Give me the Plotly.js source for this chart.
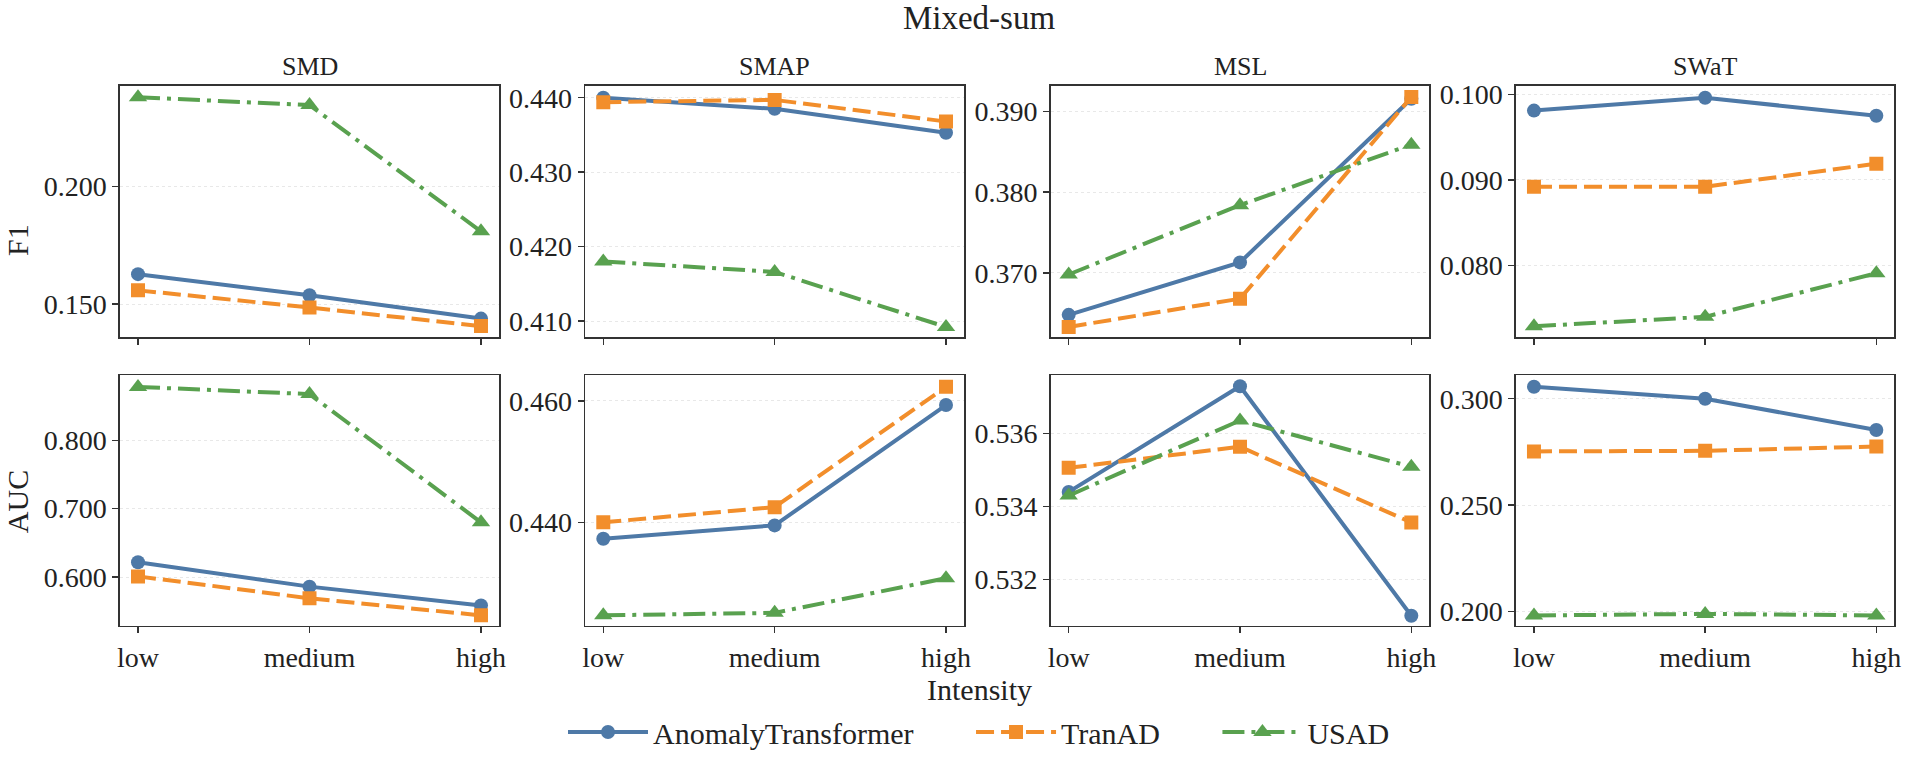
<!DOCTYPE html>
<html>
<head>
<meta charset="utf-8">
<script src="https://cdn.plot.ly/plotly-3.0.1.min.js"></script>
<style>html,body{margin:0;padding:0;background:#fff;}#chart{width:1905px;height:758px;}</style>
</head>
<body>
<div id="chart"></div>
<script>
// ---- data ----
const categories = ['low', 'medium', 'high'];
const datasets = ['SMD', 'SMAP', 'MSL', 'SWaT'];
const models = ['AnomalyTransformer', 'TranAD', 'USAD'];

// F1 values per dataset: [AnomalyTransformer, TranAD, USAD]
const f1_SMD  = [[0.1628, 0.1538, 0.1439], [0.1559, 0.1486, 0.1407], [0.2380, 0.2347, 0.1810]];
const f1_SMAP = [[0.4400, 0.4385, 0.4353], [0.4394, 0.4397, 0.4368], [0.4180, 0.4166, 0.4092]];
const f1_MSL  = [[0.3648, 0.3713, 0.3916], [0.3633, 0.3668, 0.3918], [0.3698, 0.3784, 0.3859]];
const f1_SWaT = [[0.0981, 0.0996, 0.0975], [0.0892, 0.0892, 0.0919], [0.0729, 0.0740, 0.0791]];

// AUC values per dataset
const auc_SMD  = [[0.6217, 0.5860, 0.5585], [0.6010, 0.5690, 0.5440], [0.8780, 0.8675, 0.6800]];
const auc_SMAP = [[0.4373, 0.4395, 0.4593], [0.4400, 0.4425, 0.4623], [0.4247, 0.4251, 0.4308]];
const auc_MSL  = [[0.5344, 0.5373, 0.5310], [0.53506, 0.53564, 0.53356], [0.5343, 0.53636, 0.53509]];
const auc_SWaT = [[0.3056, 0.3000, 0.2853], [0.2752, 0.2755, 0.2775], [0.1981, 0.1988, 0.1981]];

const yTicksF1  = [[0.150, 0.200], [0.410, 0.420, 0.430, 0.440], [0.370, 0.380, 0.390], [0.080, 0.090, 0.100]];
const yTicksAUC = [[0.600, 0.700, 0.800], [0.440, 0.460], [0.532, 0.534, 0.536], [0.200, 0.250, 0.300]];

// ---- styling ----
const W = 1905, H = 758;
const FONT = 'Liberation Serif, DejaVu Serif, serif';
const colors = ['#4E79A7', '#F28E2B', '#59A14F'];
const dashes = ['solid', '18px,7px', '22px,7px,4px,7px'];
const symbols = ['circle', 'square', 'triangle-up'];
const msizes = [14, 14, 16];
const NBSP = '\u00a0';
const legendPad = [NBSP.repeat(7), NBSP.repeat(7), ''];

const xDomPx = [[120, 499], [585.3, 964], [1050.7, 1429.3], [1516, 1894.3]];
const yDomPx = [[86.7, 341], [379.3, 632.3]];
const yRangesF1  = [[0.1359, 0.2429], [0.4078, 0.4416], [0.3620, 0.3932], [0.0716, 0.1010]];
const yRangesAUC = [[0.529, 0.895], [0.4230, 0.4642], [0.53073, 0.5376], [0.1933, 0.311]];

const f1All = [f1_SMD, f1_SMAP, f1_MSL, f1_SWaT];
const aucAll = [auc_SMD, auc_SMAP, auc_MSL, auc_SWaT];

const traces = [];
const layout = {
  width: W, height: H,
  margin: {l: 0, r: 0, t: 0, b: 0},
  paper_bgcolor: '#fff', plot_bgcolor: '#fff',
  font: {family: FONT, size: 28, color: '#222'},
  title: {text: 'Mixed-sum', font: {family: FONT, size: 33, color: '#222'},
          x: 979 / W, xanchor: 'center', xref: 'paper', y: 1 - 17 / H, yanchor: 'middle', yref: 'container'},
  showlegend: true,
  legend: {orientation: 'h', x: 979 / W, xanchor: 'center', y: 1 - 740 / H, yanchor: 'middle',
           font: {family: FONT, size: 30, color: '#222'}, itemwidth: 80, bgcolor: 'rgba(0,0,0,0)'},
  annotations: []
};

function axisBase() {
  return {
    showline: true, mirror: true, linecolor: '#333', linewidth: 1.6,
    ticks: 'outside', ticklen: 6, tickwidth: 1.5, tickcolor: '#333',
    zeroline: false, fixedrange: true
  };
}

for (let row = 0; row < 2; row++) {
  for (let c = 0; c < 4; c++) {
    const idx = row * 4 + c + 1;
    const xa = 'x' + (idx === 1 ? '' : idx);
    const ya = 'y' + (idx === 1 ? '' : idx);
    const vals = row === 0 ? f1All[c] : aucAll[c];
    for (let m = 0; m < 3; m++) {
      traces.push({
        type: 'scatter', mode: 'lines+markers',
        x: categories, y: vals[m],
        xaxis: xa, yaxis: ya,
        name: models[m] + legendPad[m], legendgroup: models[m], showlegend: idx === 1,
        line: {color: colors[m], width: 4, dash: dashes[m]},
        marker: {symbol: symbols[m], size: msizes[m], color: colors[m], line: {width: 0}}
      });
    }
    const xk = 'xaxis' + (idx === 1 ? '' : idx);
    const yk = 'yaxis' + (idx === 1 ? '' : idx);
    layout[xk] = Object.assign(axisBase(), {
      domain: [xDomPx[c][0] / W, xDomPx[c][1] / W],
      anchor: ya,
      type: 'category', categoryorder: 'array', categoryarray: categories,
      range: [-0.105, 2.105],
      showgrid: false,
      showticklabels: row === 1,
      tickfont: {family: FONT, size: 28, color: '#222'}
    });
    layout[yk] = Object.assign(axisBase(), {
      domain: [1 - yDomPx[row][1] / H, 1 - yDomPx[row][0] / H],
      anchor: xa,
      range: row === 0 ? yRangesF1[c] : yRangesAUC[c],
      tickmode: 'array',
      tickvals: row === 0 ? yTicksF1[c] : yTicksAUC[c],
      tickformat: '.3f',
      showgrid: true, gridcolor: '#e8e8e8', gridwidth: 1, griddash: 'dot',
      tickfont: {family: FONT, size: 28, color: '#222'}
    });
  }
}

// subplot titles
for (let c = 0; c < 4; c++) {
  layout.annotations.push({
    text: datasets[c], xref: 'paper', yref: 'paper',
    x: (xDomPx[c][0] + xDomPx[c][1]) / 2 / W, y: 1 - 67 / H,
    xanchor: 'center', yanchor: 'middle', showarrow: false,
    font: {family: FONT, size: 26, color: '#222'}
  });
}
// y labels
layout.annotations.push({text: 'F1', xref: 'paper', yref: 'paper', x: 0, y: 1 - 243 / H,
  xanchor: 'left', yanchor: 'middle', textangle: -90, showarrow: false, borderpad: 0,
  font: {family: FONT, size: 30, color: '#222'}});
layout.annotations.push({text: 'AUC', xref: 'paper', yref: 'paper', x: 0, y: 1 - 507 / H,
  xanchor: 'left', yanchor: 'middle', textangle: -90, showarrow: false, borderpad: 0,
  font: {family: FONT, size: 30, color: '#222'}});
// x label
layout.annotations.push({text: 'Intensity', xref: 'paper', yref: 'paper', x: 979 / W, y: 1 - 697 / H,
  xanchor: 'center', yanchor: 'middle', showarrow: false,
  font: {family: FONT, size: 30, color: '#222'}});

Plotly.newPlot('chart', traces, layout, {displayModeBar: false, staticPlot: true});
</script>
</body>
</html>
